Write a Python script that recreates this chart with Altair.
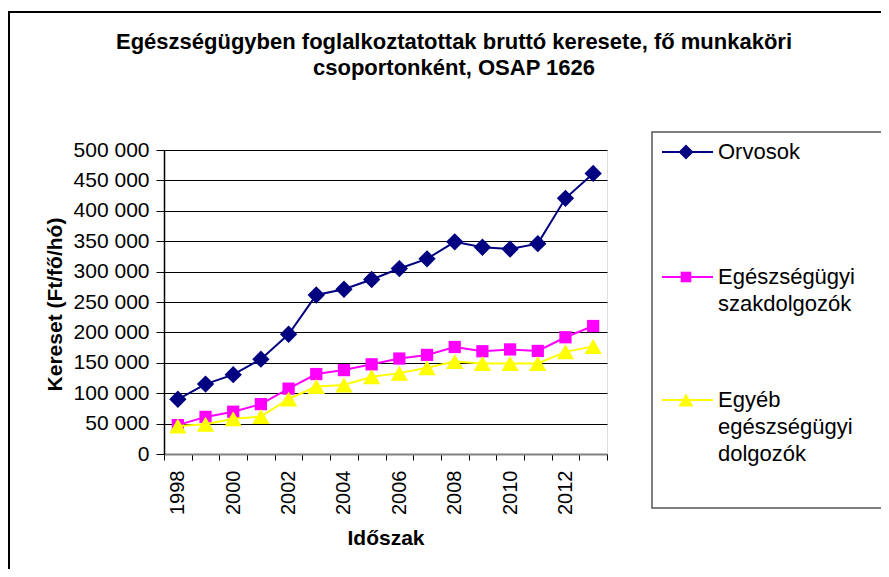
import altair as alt
import pandas as pd

# ---- data ----
years = ["1998", "1999", "2000", "2001", "2002", "2003", "2004", "2005",
         "2006", "2007", "2008", "2009", "2010", "2011", "2012", "2013"]
orvosok = [90000, 115000, 130500, 156000, 197000, 261500, 271000, 287000,
           305000, 321000, 349000, 340000, 337000, 346000, 420500, 461500]
szakdolgozok = [47500, 61000, 69500, 82000, 107500, 131500, 138000, 147500,
                157000, 163000, 176000, 169000, 172000, 169500, 192000, 210500]
egyeb = [46000, 49000, 58000, 61500, 90500, 111000, 113500, 127000,
         133000, 142000, 152000, 149000, 149000, 149000, 168000, 177000]

series_names = ["Orvosok", "Egészségügyi szakdolgozók", "Egyéb egészségügyi dolgozók"]
legend_lines = [["Orvosok"], ["Egészségügyi", "szakdolgozók"], ["Egyéb", "egészségügyi", "dolgozók"]]
series_values = [orvosok, szakdolgozok, egyeb]
colors = ["#000080", "#FF00FF", "#FFFF00"]
shapes = ["diamond", "square", "triangle-up"]
sizes = [300, 150, 300]

title_lines = ["Egészségügyben foglalkoztatottak bruttó keresete, fő munkaköri",
               "csoportonként, OSAP 1626"]
y_ticks = [0, 50000, 100000, 150000, 200000, 250000, 300000, 350000, 400000, 450000, 500000]

FONT = "Liberation Sans"

rows = []
for name, vals in zip(series_names, series_values):
    for y, v in zip(years, vals):
        rows.append({"year": y, "value": v, "series": name})
df = pd.DataFrame(rows)

W, H = 443, 304

x_enc = alt.X("year:O", scale=alt.Scale(type="band", paddingInner=0, paddingOuter=0),
              axis=alt.Axis(title="Időszak", labelAngle=270, tickBand="extent",
                            labelExpr="parseInt(datum.value) % 2 == 0 ? datum.label : ''",
                            labelOverlap=False, grid=False, tickSize=6, tickColor="black",
                            domainColor="#808080", domainWidth=2,
                            labelFontSize=20, labelPadding=10, labelColor="black",
                            titleFontSize=21, titleFontWeight="bold", titleColor="black",
                            titleBaseline="alphabetic", titleY=90))
y_enc = alt.Y("value:Q", scale=alt.Scale(domain=[0, 500000], nice=False),
              axis=alt.Axis(title="Kereset (Ft/fő/hó)", values=y_ticks, labelOverlap=False,
                            labelExpr="replace(format(datum.value, ',d'), ',', ' ')",
                            grid=True, gridColor="black", gridWidth=1,
                            tickSize=8, tickColor="black", domainColor="black", domainWidth=1.5,
                            labelFontSize=21, labelPadding=7, labelColor="black",
                            titleFontSize=21, titleFontWeight="bold", titleColor="black",
                            titleX=-109, titleY=H / 2 + 2, titleBaseline="middle", titleAngle=270))

layers = []
base = alt.Chart(df)
for name, col, shp, sz in zip(series_names, colors, shapes, sizes):
    sub = base.transform_filter(alt.datum.series == name)
    line = sub.mark_line(color=col, strokeWidth=2).encode(x=x_enc, y=y_enc)
    pts = sub.mark_point(shape=shp, filled=True, size=sz, color=col, opacity=1).encode(
        x=x_enc, y=y_enc)
    layers += [line, pts]

one = pd.DataFrame({"k": [0]})

# outer chart border
border = alt.Chart(one).mark_rect(fill=None, stroke="black", strokeWidth=2).encode(
    x=alt.value(-155), x2=alt.value(760), y=alt.value(-138), y2=alt.value(480))

# title as text lines
title_layers = []
for j, t in enumerate(title_lines):
    title_layers.append(alt.Chart(one).mark_text(
        align="center", baseline="alphabetic", fontSize=22, fontWeight="bold",
        font=FONT, color="black").encode(
        x=alt.value(290), y=alt.value(-101 + j * 26), text=alt.value(t)))

# legend box
legend_box = alt.Chart(one).mark_rect(fill="white", stroke="#555555", strokeWidth=1.5).encode(
    x=alt.value(488), x2=alt.value(760), y=alt.value(-18), y2=alt.value(358))

legend_layers = [legend_box]
entry_y = [2, 127, 250]
line_gap = 27
for lines, col, shp, sz, ey in zip(legend_lines, colors, shapes, sizes, entry_y):
    legend_layers.append(alt.Chart(one).mark_rule(color=col, strokeWidth=2).encode(
        x=alt.value(498), x2=alt.value(549), y=alt.value(ey)))
    legend_layers.append(alt.Chart(one).mark_point(shape=shp, filled=True, size=sz * 0.75,
                                                   color=col, opacity=1).encode(
        x=alt.value(522), y=alt.value(ey)))
    for j, t in enumerate(lines):
        legend_layers.append(alt.Chart(one).mark_text(
            align="left", baseline="middle", fontSize=22, font=FONT, color="black").encode(
            x=alt.value(554), y=alt.value(ey + j * line_gap), text=alt.value(t)))

chart = alt.layer(*layers, border, *title_layers, *legend_layers).properties(
    width=W, height=H,
    autosize=alt.AutoSizeParams(type="none"),
    padding={"left": 156, "top": 142, "right": 274, "bottom": 115},
).configure_view(
    fill="#C0C0C0", stroke="#808080", strokeWidth=2
).configure_axis(
    labelFont=FONT, titleFont=FONT
).configure(background="white")

chart.save("out.html", embed_options={"renderer": "svg", "actions": False})
